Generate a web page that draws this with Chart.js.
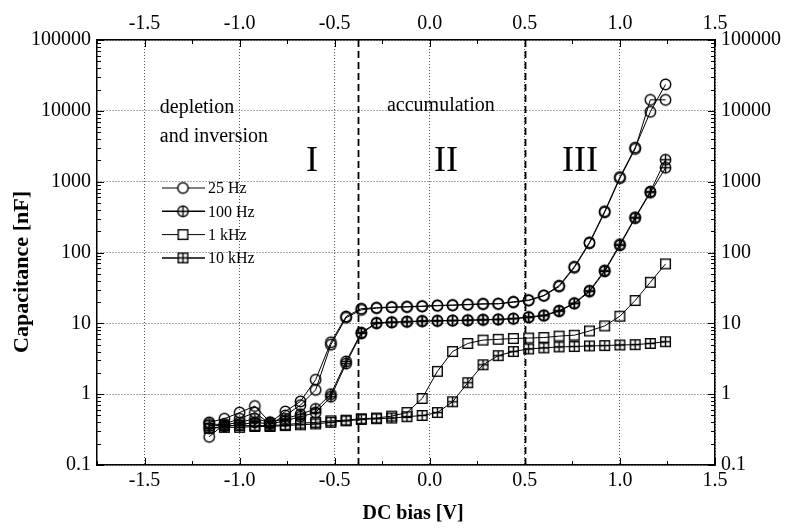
<!DOCTYPE html>
<html>
<head>
<meta charset="utf-8">
<script src="https://cdn.jsdelivr.net/npm/chart.js@4.4.1/dist/chart.umd.min.js"></script>
<style>
  html, body { margin: 0; padding: 0; background: #fff; }
  #wrap { width: 785px; height: 528px; }
</style>
</head>
<body>
<div id="wrap"><canvas id="cv" width="785" height="528"></canvas></div>
<script>
// DC bias points (V), same grid for every frequency
const biasV = [-1.16, -1.08, -1.00, -0.92, -0.84, -0.76, -0.68, -0.60, -0.52, -0.44, -0.36,
  -0.28, -0.20, -0.12, -0.04, 0.04, 0.12, 0.20, 0.28, 0.36, 0.44, 0.52, 0.60, 0.68, 0.76,
  0.84, 0.92, 1.00, 1.08, 1.16, 1.24];

// capacitance (nF), two sweeps per frequency
const c25Hz_a = [0.40, 0.45, 0.55, 0.68, 0.40, 0.57, 0.79, 1.6, 5.4, 12.5, 16.1, 16.6, 17.0, 17.2,
  17.5, 17.9, 18.1, 18.5, 18.9, 18.9, 20.2, 21.3, 24.8, 34, 63, 139, 382, 1160, 3020, 9690, 23600];
const c25Hz_b = [0.25, 0.38, 0.45, 0.55, 0.38, 0.50, 0.70, 1.15, 5.0, 12.0, 15.5, 16.4, 16.8, 17.0,
  17.3, 17.7, 18.0, 18.3, 18.7, 18.9, 19.8, 21.0, 24.5, 33, 61, 135, 370, 1120, 2900, 14300, 14300];
const c100Hz_a = [0.38, 0.37, 0.40, 0.45, 0.40, 0.45, 0.52, 0.62, 1.0, 2.9, 7.4, 10.2, 10.4, 10.6,
  10.8, 10.9, 11.0, 11.1, 11.25, 11.4, 11.7, 12.3, 13.0, 15.1, 19.3, 28.9, 56, 131, 314, 726, 2040];
const c100Hz_b = [0.33, 0.35, 0.37, 0.40, 0.38, 0.42, 0.48, 0.55, 0.92, 2.7, 7.2, 10.0, 10.3, 10.5,
  10.7, 10.8, 10.9, 11.0, 11.2, 11.3, 11.6, 12.1, 12.8, 14.8, 19.0, 28.0, 54, 126, 305, 700, 1573];
const c1kHz = [0.36, 0.36, 0.36, 0.36, 0.36, 0.37, 0.39, 0.40, 0.42, 0.43, 0.45, 0.46, 0.49, 0.55,
  0.87, 2.1, 4.0, 5.2, 5.8, 5.95, 6.1, 6.2, 6.3, 6.6, 6.8, 7.8, 9.2, 12.6, 21, 38, 69];
const c10kHz = [0.33, 0.34, 0.34, 0.35, 0.35, 0.36, 0.37, 0.38, 0.40, 0.42, 0.44, 0.45, 0.46, 0.48,
  0.50, 0.55, 0.78, 1.45, 2.6, 3.5, 4.0, 4.35, 4.5, 4.65, 4.7, 4.8, 4.85, 4.95, 5.0, 5.2, 5.5];

const xTickVals = [-1.5, -1.0, -0.5, 0.0, 0.5, 1.0, 1.5];
const xTickLabels = ['-1.5', '-1.0', '-0.5', '0.0', '0.5', '1.0', '1.5'];
const yTickVals = [0.1, 1, 10, 100, 1000, 10000, 100000];
const yTickLabels = ['0.1', '1', '10', '100', '1000', '10000', '100000'];

const regionBounds = [-0.375, 0.5];
const legendLabels = ['25 Hz', '100 Hz', '1 kHz', '10 kHz'];
const notes = [
  { text: 'depletion', x: -1.42, y: 9400, size: 20, align: 'left' },
  { text: 'and inversion', x: -1.42, y: 3650, size: 20, align: 'left' },
  { text: 'accumulation', x: -0.225, y: 10000, size: 20, align: 'left' },
  { text: 'I', x: -0.62, y: 1420, size: 36, align: 'center' },
  { text: 'II', x: 0.085, y: 1420, size: 36, align: 'center' },
  { text: 'III', x: 0.79, y: 1420, size: 36, align: 'center' },
];

const SERIF = '"Liberation Serif", "Times New Roman", serif';

// marker images
function marker(kind) {
  const s = 15, m = s / 2;
  const c = document.createElement('canvas');
  c.width = c.height = s;
  const g = c.getContext('2d');
  g.strokeStyle = '#000';
  g.lineWidth = 1.4;
  if (kind.startsWith('circle')) {
    g.beginPath(); g.arc(m, m, 5.2, 0, Math.PI * 2); g.stroke();
    if (kind === 'circlePlus') {
      g.beginPath(); g.moveTo(m - 5, m); g.lineTo(m + 5, m); g.moveTo(m, m - 5); g.lineTo(m, m + 5); g.stroke();
    }
  } else {
    g.strokeRect(m - 4.8, m - 4.8, 9.6, 9.6);
    if (kind === 'rectPlus') {
      g.beginPath(); g.moveTo(m - 4.8, m); g.lineTo(m + 4.8, m); g.moveTo(m, m - 4.8); g.lineTo(m, m + 4.8); g.stroke();
    }
  }
  return c;
}
const mk = {
  circle: marker('circle'),
  circlePlus: marker('circlePlus'),
  rect: marker('rect'),
  rectPlus: marker('rectPlus'),
};
const legendMarkers = [mk.circle, mk.circlePlus, mk.rect, mk.rectPlus];

const pts = arr => biasV.map((x, i) => ({ x, y: arr[i] }));
const series = (label, arr, style, lw) => ({
  label, data: pts(arr), pointStyle: style, borderColor: '#000', borderWidth: lw,
  backgroundColor: 'transparent', pointRadius: 5, tension: 0,
});

const tickFont = { family: SERIF, size: 20 };

const xAxis = (pos, h) => ({
  type: 'linear', position: pos, min: -1.75, max: 1.5,
  afterBuildTicks: s => { s.ticks = xTickVals.map(v => ({ value: v })); },
  afterFit: s => { s.height = h; },
  ticks: { callback: (v, i) => xTickLabels[i], font: tickFont, color: '#000', padding: 4, maxRotation: 0, autoSkip: false },
  grid: { display: pos === 'bottom', drawTicks: false, color: '#555', lineWidth: 1 },
  border: { display: true, color: '#000', width: 1.5, dash: [1, 2] },
});
const yAxis = (pos, w) => ({
  type: 'logarithmic', position: pos, min: 0.1, max: 100000,
  afterBuildTicks: s => { s.ticks = yTickVals.map(v => ({ value: v, major: true })); },
  afterFit: s => { s.width = w; },
  ticks: { callback: (v, i) => yTickLabels[i], font: tickFont, color: '#000', padding: 6, autoSkip: false },
  grid: { display: pos === 'left', drawTicks: false, color: '#555', lineWidth: 1 },
  border: { display: true, color: '#000', width: 1.5, dash: [1, 2] },
});

const decor = {
  id: 'decor',
  beforeDatasetsDraw(chart) {
    const { ctx, chartArea: a, scales: { x, y } } = chart;
    ctx.save();
    // dashed region boundaries
    ctx.strokeStyle = '#000';
    ctx.lineWidth = 1.8;
    ctx.setLineDash([7, 4]);
    regionBounds.forEach(v => {
      const px = Math.round(x.getPixelForValue(v)) + 0.5;
      ctx.beginPath(); ctx.moveTo(px, a.top); ctx.lineTo(px, a.bottom); ctx.stroke();
    });
    ctx.setLineDash([]);
    // inward ticks
    ctx.lineWidth = 1;
    for (let k = 0; k <= 13; k++) {
      const v = -1.75 + k * 0.25;
      const px = Math.round(x.getPixelForValue(v)) + 0.5;
      const len = Math.abs(v * 2 - Math.round(v * 2)) < 1e-6 ? 7 : 4;
      ctx.beginPath();
      ctx.moveTo(px, a.top); ctx.lineTo(px, a.top + len);
      ctx.moveTo(px, a.bottom); ctx.lineTo(px, a.bottom - len);
      ctx.stroke();
    }
    for (let e = -1; e <= 5; e++) {
      for (let m = 1; m <= 9; m++) {
        const v = m * Math.pow(10, e);
        if (v > 100000) break;
        const py = Math.round(y.getPixelForValue(v)) + 0.5;
        const len = m === 1 ? 7 : 4;
        ctx.beginPath();
        ctx.moveTo(a.left, py); ctx.lineTo(a.left + len, py);
        ctx.moveTo(a.right, py); ctx.lineTo(a.right - len, py);
        ctx.stroke();
      }
    }
    ctx.restore();
  },
  afterDraw(chart) {
    const { ctx, chartArea: a, scales: { x, y } } = chart;
    ctx.save();
    ctx.fillStyle = '#000';
    ctx.textBaseline = 'alphabetic';
    notes.forEach(n => {
      ctx.font = n.size + 'px ' + SERIF;
      ctx.textAlign = n.align;
      ctx.fillText(n.text, x.getPixelForValue(n.x), y.getPixelForValue(n.y));
    });
    // legend
    ctx.font = '16px ' + SERIF;
    ctx.textAlign = 'left';
    ctx.textBaseline = 'middle';
    legendLabels.forEach((t, i) => {
      const cy = a.top + 148 + i * 23.3;
      const cx = a.left + 86;
      ctx.strokeStyle = '#000';
      ctx.lineWidth = i % 2 ? 1.5 : 1;
      ctx.beginPath(); ctx.moveTo(cx - 21, cy); ctx.lineTo(cx + 22, cy); ctx.stroke();
      ctx.fillStyle = '#fff';
      ctx.fillRect(cx - 5, cy - 5, 10, 10);
      ctx.drawImage(legendMarkers[i], cx - 7.5, cy - 7.5);
      ctx.fillStyle = '#000';
      ctx.fillText(t, cx + 25, cy + 1);
    });
    // axis titles
    ctx.font = 'bold 20px ' + SERIF;
    ctx.textAlign = 'center';
    ctx.textBaseline = 'middle';
    ctx.fillText('DC bias [V]', (a.left + a.right) / 2 + 7, 514);
    ctx.translate(22, 272);
    ctx.rotate(-Math.PI / 2);
    ctx.font = 'bold 22px ' + SERIF;
    ctx.fillText('Capacitance [nF]', 0, 0);
    ctx.restore();
  }
};

new Chart(document.getElementById('cv').getContext('2d'), {
  type: 'line',
  data: {
    datasets: [
      series('25 Hz', c25Hz_a, mk.circle, 1),
      series('25 Hz', c25Hz_b, mk.circle, 1),
      series('100 Hz', c100Hz_a, mk.circlePlus, 1),
      series('100 Hz', c100Hz_b, mk.circlePlus, 1),
      series('1 kHz', c1kHz, mk.rect, 1),
      series('10 kHz', c10kHz, mk.rectPlus, 1),
    ]
  },
  options: {
    responsive: false,
    animation: false,
    devicePixelRatio: 1,
    layout: { padding: 0 },
    plugins: { legend: { display: false }, tooltip: { enabled: false } },
    scales: {
      x: xAxis('bottom', 63),
      x2: xAxis('top', 40),
      y: yAxis('left', 97),
      y2: yAxis('right', 70),
    }
  },
  plugins: [decor]
});
</script>
</body>
</html>
